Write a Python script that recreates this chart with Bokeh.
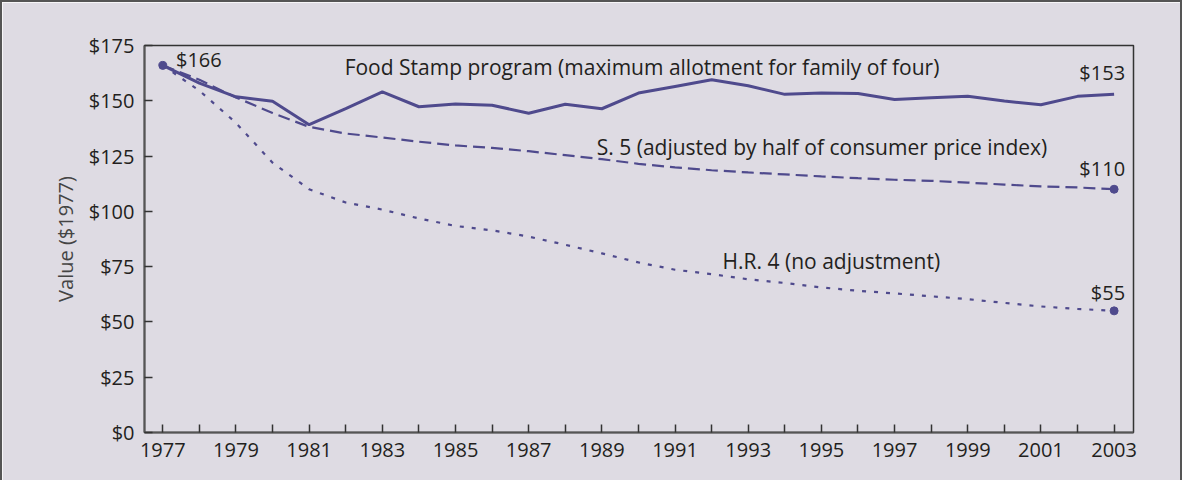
from bokeh.plotting import figure
from bokeh.models import ColumnDataSource, FixedTicker, PrintfTickFormatter, Title
from bokeh.core.properties import value
from bokeh.embed import file_html
from bokeh.resources import INLINE

years = list(range(1977, 2004))
food_stamp = [166, 158, 151.8, 149.8, 139.2, 146.5, 154, 147.3, 148.5, 148.0,
              144.4, 148.4, 146.4, 153.5, 156.5, 159.5, 156.8, 152.9, 153.5, 153.3,
              150.6, 151.4, 152.1, 149.9, 148.2, 152.0, 153]
s5 = [166, 159.5, 151.5, 144.5, 138.2, 135.2, 133.4, 131.5, 129.8, 128.7,
      127.2, 125.4, 123.6, 121.5, 119.9, 118.6, 117.6, 116.7, 115.8, 115.0,
      114.3, 113.8, 113.0, 112.1, 111.3, 110.8, 110]
hr4 = [166, 154.6, 140, 122, 110, 104, 100.8, 96.8, 93.4, 91.4,
       88.6, 84.9, 81, 76.9, 73.6, 71.6, 69.3, 67.6, 65.6, 64.1,
       62.9, 61.6, 60.3, 58.6, 57, 55.9, 55]

end_x = [1977, 2003, 2003]
end_y = [166, 110, 55]

series_labels = ["Food Stamp program (maximum allotment for family of four)",
                 "S. 5 (adjusted by half of consumer price index)",
                 "H.R. 4 (no adjustment)"]
series_label_x = [1981.97, 1988.86, 1992.3]
series_label_y = [165.5, 128.9, 77.6]

value_labels = ["$166", "$153", "$110", "$55"]
value_label_x = [1977.36, 2003.3, 2003.3, 2003.3]
value_label_y = [168.7, 162.6, 119.4, 63.5]
value_label_align = ["left", "right", "right", "right"]

y_ticks = [0, 25, 50, 75, 100, 125, 150, 175]
y_title = "Value ($1977)"

BG = "#dedbe3"
LINE = "#4f4a8d"
TEXT = "#231f20"
AXIS = "#555555"

p = figure(width=1182, height=480, x_range=(1976.5, 2003.53), y_range=(0, 175),
           output_backend="svg", toolbar_location=None)
p.styles = {"border-top": "2px solid #555555", "border-left": "2px solid #555555",
            "border-right": "2px solid #555555"}
p.min_border_left = 142
p.min_border_right = 51
p.min_border_top = 43
p.min_border_bottom = 50
p.background_fill_color = BG
p.border_fill_color = BG
p.outline_line_color = "#333333"
p.outline_line_width = 1.5
p.grid.visible = False

for ax in (p.xaxis[0], p.yaxis[0]):
    ax.axis_line_color = AXIS
    ax.axis_line_width = 2
    ax.major_tick_line_color = "#333333"
    ax.major_tick_line_width = 1.5
    ax.major_tick_in = 8
    ax.major_tick_out = 0
    ax.minor_tick_line_color = None
    ax.major_label_text_font = "Open Sans"
    ax.major_label_text_font_size = "20px"
    ax.major_label_text_color = TEXT
    ax.major_label_standoff = 10

p.xaxis.ticker = FixedTicker(ticks=years)
p.xaxis.major_label_overrides = {y: (str(y) if y % 2 == 1 else "") for y in years}
p.yaxis.ticker = FixedTicker(ticks=y_ticks)
p.yaxis.formatter = PrintfTickFormatter(format="$%d")

ytitle = Title(text=y_title, align="center", offset=11, standoff=14,
               text_font="Open Sans", text_font_size="20px",
               text_font_style="normal", text_color="#444444")
p.add_layout(ytitle, "left")

p.line(years, hr4, line_color=LINE, line_width=2.2, line_dash="4 8")
p.line(years, s5, line_color=LINE, line_width=2.2, line_dash="12 6")
p.line(years, food_stamp, line_color=LINE, line_width=3)
p.scatter(end_x, end_y, size=8, color=LINE)

src_s = ColumnDataSource(dict(x=series_label_x, y=series_label_y, t=series_labels))
p.text("x", "y", text="t", source=src_s, text_font=value("Open Sans"),
       text_font_size="21px", text_color=TEXT, text_align="left",
       text_baseline="middle")
src_v = ColumnDataSource(dict(x=value_label_x, y=value_label_y, t=value_labels,
                              a=value_label_align))
p.text("x", "y", text="t", source=src_v, text_font=value("Open Sans"),
       text_font_size="20px", text_color=TEXT, text_align="a",
       text_baseline="middle")

open("out.html", "w").write(file_html(p, INLINE))
